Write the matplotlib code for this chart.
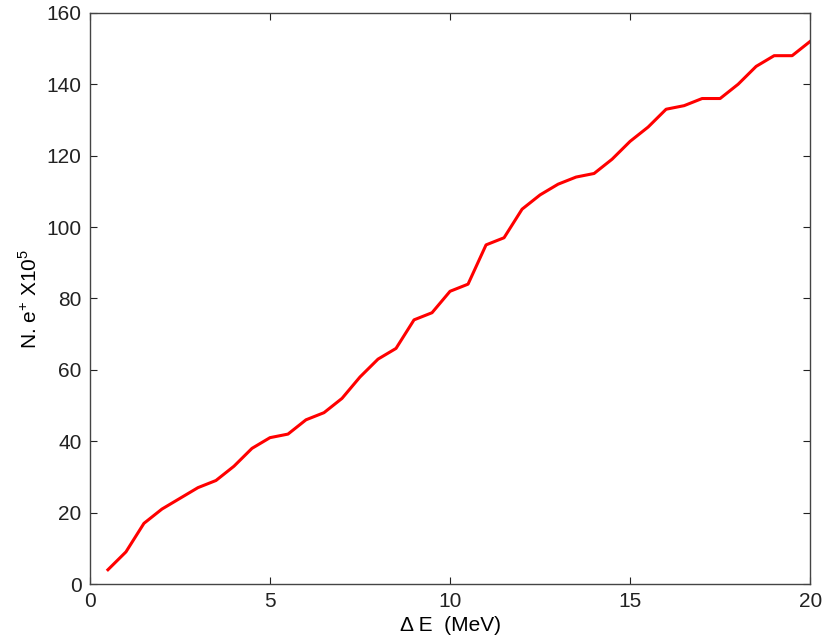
import matplotlib
matplotlib.use("Agg")
import matplotlib.pyplot as plt

plt.rcParams['font.family'] = ['Liberation Sans', 'DejaVu Sans']
plt.rcParams['mathtext.fontset'] = 'custom'
plt.rcParams['mathtext.rm'] = 'Liberation Sans'

delta_e = [0.5, 1, 1.5, 2, 2.5, 3, 3.5, 4, 4.5, 5, 5.5, 6, 6.5, 7, 7.5, 8, 8.5, 9, 9.5, 10,
           10.5, 11, 11.5, 12, 12.5, 13, 13.5, 14, 14.5, 15, 15.5, 16, 16.5, 17, 17.5, 18, 18.5, 19, 19.5, 20]
n_pos = [4, 9, 17, 21, 24, 27, 29, 33, 38, 41, 42, 46, 48, 52, 58, 63, 66, 74, 76, 82,
         84, 95, 97, 105, 109, 112, 114, 115, 119, 124, 128, 133, 134, 136, 136, 140, 145, 148, 148, 152]
xticks = [0, 5, 10, 15, 20]
yticks = [0, 20, 40, 60, 80, 100, 120, 140, 160]

fig = plt.figure(figsize=(8.25, 6.42), dpi=100)
ax = fig.add_axes([0.109, 0.0903, 0.873, 0.8897])
ax.plot(delta_e, n_pos, color='#ff0000', lw=2.2)
ax.set_xlim(0, 20)
ax.set_ylim(0, 160)
ax.set_xticks(xticks)
ax.set_yticks(yticks)
ax.tick_params(direction='in', top=True, right=True, labelsize=15, colors='#222222', length=5)
ax.tick_params(axis='x', pad=6)
ax.tick_params(axis='y', pad=6)
for s in ax.spines.values():
    s.set_color('#444444')
    s.set_linewidth(1.0)
ax.set_xlabel('Δ E  (MeV)', fontsize=15, labelpad=3)
ax.set_ylabel(r'N. e$^{+}$ X10$^{5}$', fontsize=15, labelpad=4)
fig.savefig('out.png', dpi=100)
